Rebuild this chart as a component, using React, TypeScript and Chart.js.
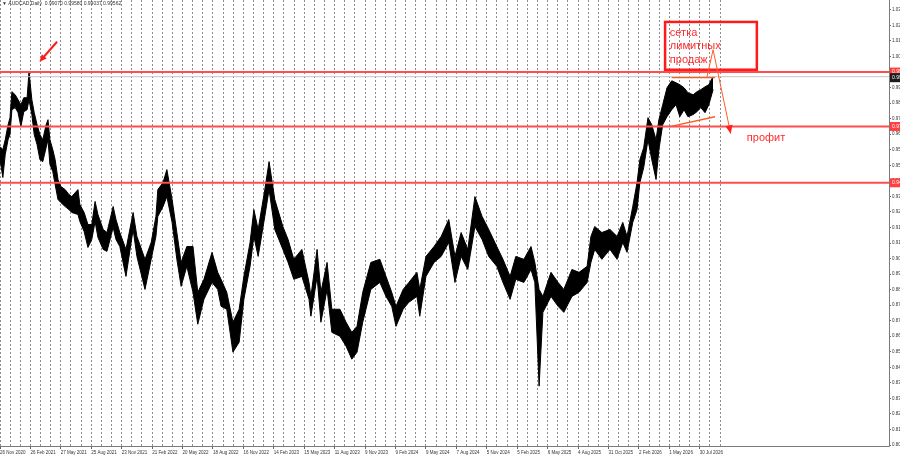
import { useEffect, useRef } from "react";
import { Chart, registerables } from "chart.js";

Chart.register(...registerables);

// ---- data (bar index of each sample, high / low prices) ----
const BAR_INDEX = [
  0, 6, 11, 17, 21, 25, 32, 38, 44, 50, 57, 61, 67, 72, 78, 84, 90, 97, 101, 105,
  111, 116, 122, 128, 137, 145, 151, 164, 168, 177, 185, 193, 200, 206, 217, 225, 238, 244, 252, 265,
  280, 288, 305, 318, 328, 332, 343, 351, 362, 372, 381, 393, 406, 416, 429, 446, 458, 465, 477, 490,
  503, 513, 526, 534, 543, 557, 566, 578, 595, 606, 618, 635, 650, 654, 667, 675, 688, 698, 715, 728,
  740, 751, 763, 780, 799, 812, 824, 833, 848, 860, 877, 883, 896, 913, 928, 944, 957, 970, 984, 999,
  1014, 1028, 1045, 1058, 1073, 1085, 1102, 1117, 1125, 1134, 1142, 1159, 1174, 1186, 1203, 1218, 1235, 1243, 1251, 1266,
  1283, 1298, 1310, 1319, 1331, 1340, 1346, 1354, 1363, 1371, 1380, 1386, 1394, 1403, 1413, 1422, 1430, 1439, 1447, 1458,
  1466, 1474, 1483, 1491, 1500,
];
const HIGHS = [
  0.9596, 0.9581, 0.9632, 0.9709, 0.9745, 0.9879, 0.9863, 0.9838, 0.9812, 0.9848, 0.9848, 0.9982, 0.9838, 0.9771, 0.9709, 0.9658, 0.9632, 0.9709, 0.9735, 0.9632,
  0.9581, 0.9529, 0.9427, 0.9391, 0.9375, 0.9350, 0.9339, 0.9375, 0.9298, 0.9257, 0.9195, 0.9195, 0.9314, 0.9247, 0.9170, 0.9154, 0.9288, 0.9221, 0.9154, 0.9067,
  0.9257, 0.9134, 0.9016, 0.9103, 0.9237, 0.9375, 0.9411, 0.9478, 0.9324, 0.9154, 0.9000, 0.9082, 0.9082, 0.8846, 0.8913, 0.9052, 0.8949, 0.8913, 0.8846, 0.8692,
  0.8759, 0.8928, 0.9103, 0.9272, 0.9170, 0.9375, 0.9519, 0.9324, 0.9185, 0.9118, 0.9016, 0.9067, 0.8897, 0.8825, 0.9067, 0.8846, 0.9000, 0.8759, 0.8759, 0.8692,
  0.8640, 0.8671, 0.8846, 0.9000, 0.9016, 0.8928, 0.8846, 0.8774, 0.8861, 0.8897, 0.8949, 0.8861, 0.9031, 0.9082, 0.9134, 0.9221, 0.9031, 0.9154, 0.9067, 0.9339,
  0.9237, 0.9170, 0.9082, 0.9016, 0.8928, 0.9031, 0.9016, 0.9082, 0.9000, 0.8861, 0.8825, 0.8949, 0.8897, 0.8861, 0.8964, 0.8949, 0.8980, 0.9134, 0.9185, 0.9154,
  0.9170, 0.9134, 0.9206, 0.9134, 0.9288, 0.9411, 0.9529, 0.9591, 0.9745, 0.9709, 0.9632, 0.9735, 0.9812, 0.9899, 0.9935, 0.9925, 0.9915, 0.9899, 0.9874, 0.9863,
  0.9879, 0.9889, 0.9904, 0.9915, 0.9958,
];
const LOWS = [
  0.9529, 0.9437, 0.9555, 0.9632, 0.9658, 0.9786, 0.9797, 0.9771, 0.9699, 0.9776, 0.9786, 0.9838, 0.9761, 0.9658, 0.9606, 0.9529, 0.9519, 0.9591, 0.9632, 0.9504,
  0.9468, 0.9401, 0.9324, 0.9308, 0.9288, 0.9272, 0.9257, 0.9247, 0.9211, 0.9159, 0.9077, 0.9118, 0.9211, 0.9129, 0.9067, 0.9057, 0.9180, 0.9118, 0.9082, 0.8928,
  0.9170, 0.9031, 0.8861, 0.9016, 0.9134, 0.9237, 0.9288, 0.9339, 0.9206, 0.9016, 0.8877, 0.8980, 0.8846, 0.8682, 0.8810, 0.8897, 0.8861, 0.8774, 0.8759, 0.8538,
  0.8589, 0.8810, 0.8980, 0.9134, 0.9031, 0.9237, 0.9375, 0.9170, 0.9067, 0.9000, 0.8913, 0.8928, 0.8810, 0.8723, 0.8928, 0.8692, 0.8861, 0.8640, 0.8620, 0.8569,
  0.8502, 0.8538, 0.8692, 0.8861, 0.8897, 0.8825, 0.8774, 0.8671, 0.8759, 0.8795, 0.8825, 0.8723, 0.8928, 0.9000, 0.9031, 0.9103, 0.8897, 0.9031, 0.8964, 0.9185,
  0.9118, 0.9031, 0.8980, 0.8897, 0.8810, 0.8913, 0.8897, 0.8964, 0.8897, 0.8363, 0.8743, 0.8825, 0.8774, 0.8743, 0.8825, 0.8846, 0.8897, 0.9000, 0.9067, 0.9016,
  0.9067, 0.9016, 0.9103, 0.9052, 0.9206, 0.9272, 0.9411, 0.9488, 0.9632, 0.9529, 0.9427, 0.9581, 0.9709, 0.9750, 0.9786, 0.9812, 0.9750, 0.9786, 0.9750, 0.9761,
  0.9776, 0.9797, 0.9771, 0.9812, 0.9890,
];

const Y_TICKS = [
  1.030, 1.022, 1.014, 1.006, 0.998, 0.990, 0.982, 0.974, 0.966, 0.958, 0.950, 0.942, 0.934, 0.926, 0.918,
  0.910, 0.902, 0.894, 0.886, 0.878, 0.870, 0.862, 0.854, 0.846, 0.838, 0.830, 0.822, 0.814, 0.806,
];
const DATE_LABELS = [
  "26 Nov 2020", "26 Feb 2021", "27 May 2021", "25 Aug 2021", "23 Nov 2021", "21 Feb 2022",
  "20 May 2022", "18 Aug 2022", "16 Nov 2022", "14 Feb 2023", "15 May 2023", "11 Aug 2023",
  "9 Nov 2023", "9 Feb 2024", "9 May 2024", "7 Aug 2024", "5 Nov 2024", "5 Feb 2025",
  "6 May 2025", "4 Aug 2025", "31 Oct 2025", "2 Feb 2026", "1 May 2026", "30 Jul 2026",
];
const BARS_PER_LABEL = 64;
const GRID_PER_LABEL = 3;
const GRID_COUNT = 72;
const X_MAX = 1870;
const Y_MIN = 0.8055;
const Y_MAX = 1.0351;

const LEVELS = [0.998, 0.97, 0.941];
const LEVEL_LABELS = ["0.99800", "0.97000", "0.94100"];
const CURRENT = 0.99562;
const CURRENT_LABEL = "0.99562";
const HEADER = "\u25BC AUDCAD,Daily  0.99070 0.99580 0.99037 0.99562";

// pattern lines (bar, price)
const TRI_TOP = [
  { x: 1413, y: 0.9951 },
  { x: 1504, y: 0.9951 },
];
const TRI_BOTTOM = [
  { x: 1409, y: 0.9699 },
  { x: 1504, y: 0.975 },
];

// annotations (bar, price)
const BOX = { x1: 1399, x2: 1592, y1: 1.0238, y2: 0.9992 };
const BOX_TEXT = ["сетка", "лимитных", "продаж"];
const BOX_TEXT_POS = { x: 1409, ys: [1.0166, 1.0097, 1.0027] };
const PROFIT_TEXT = "профит";
const PROFIT_POS = { x: 1571, y: 0.9625 };
const PEAK_ARROW = { from: { x: 120, y: 1.0136 }, to: { x: 83, y: 1.0033 } };
const SELL_PATH = [
  { x: 1487, y: 0.9953 },
  { x: 1500, y: 1.0095 },
  { x: 1537, y: 0.9663 },
];

function drawArrowHead(ctx: CanvasRenderingContext2D, x1: number, y1: number, x2: number, y2: number, size: number, color: string) {
  const a = Math.atan2(y2 - y1, x2 - x1);
  ctx.fillStyle = color;
  ctx.beginPath();
  ctx.moveTo(x2, y2);
  ctx.lineTo(x2 - size * Math.cos(a - 0.42), y2 - size * Math.sin(a - 0.42));
  ctx.lineTo(x2 - size * Math.cos(a + 0.42), y2 - size * Math.sin(a + 0.42));
  ctx.closePath();
  ctx.fill();
}

const overlayPlugin = {
  id: "overlay",
  afterDraw(chart: any) {
    const ctx: CanvasRenderingContext2D = chart.ctx;
    const xs = chart.scales.x;
    const ys = chart.scales.y;
    const ca = chart.chartArea;
    const px = (v: number) => xs.getPixelForValue(v);
    const py = (v: number) => ys.getPixelForValue(v);
    ctx.save();

    // axes
    ctx.strokeStyle = "#7a7a7a";
    ctx.lineWidth = 1;
    ctx.beginPath();
    ctx.moveTo(Math.round(ca.right) + 0.5, 0);
    ctx.lineTo(Math.round(ca.right) + 0.5, Math.round(ca.bottom) + 0.5);
    ctx.lineTo(0, Math.round(ca.bottom) + 0.5);
    ctx.stroke();

    // level labels
    ctx.font = "5px 'Liberation Sans'";
    ctx.textBaseline = "middle";
    ctx.textAlign = "left";
    LEVELS.forEach((lv, i) => {
      const y = py(lv);
      ctx.fillStyle = "#ff4040";
      ctx.fillRect(ca.right + 1, y - 4.5, 12, 9);
      ctx.fillStyle = "#ffffff";
      ctx.fillText(LEVEL_LABELS[i], ca.right + 3, y);
    });
    {
      const y = py(CURRENT) + 1;
      ctx.fillStyle = "#1c1c1c";
      ctx.fillRect(ca.right + 1, y - 4.5, 12, 9);
      ctx.fillStyle = "#ffffff";
      ctx.fillText(CURRENT_LABEL, ca.right + 3, y);
    }

    // header
    ctx.fillStyle = "#333";
    ctx.font = "5px 'Liberation Sans'";
    ctx.textBaseline = "middle";
    ctx.fillText(HEADER, 2, 4);

    // annotation box
    ctx.strokeStyle = "#ff1a1a";
    ctx.lineWidth = 2.5;
    const bx1 = px(BOX.x1), bx2 = px(BOX.x2), by1 = py(BOX.y1), by2 = py(BOX.y2);
    ctx.strokeRect(bx1, by1, bx2 - bx1, by2 - by1);

    ctx.fillStyle = "#ff2a2a";
    ctx.font = "11px 'Liberation Sans'";
    ctx.textBaseline = "alphabetic";
    BOX_TEXT.forEach((t, i) => ctx.fillText(t, px(BOX_TEXT_POS.x), py(BOX_TEXT_POS.ys[i])));
    ctx.fillText(PROFIT_TEXT, px(PROFIT_POS.x), py(PROFIT_POS.y));

    // peak arrow
    {
      const x1 = px(PEAK_ARROW.from.x), y1 = py(PEAK_ARROW.from.y);
      const x2 = px(PEAK_ARROW.to.x), y2 = py(PEAK_ARROW.to.y);
      ctx.strokeStyle = "#ff1a1a";
      ctx.lineWidth = 2;
      ctx.beginPath();
      ctx.moveTo(x1, y1);
      ctx.lineTo(x2 + (x1 - x2) * 0.2, y2 + (y1 - y2) * 0.2);
      ctx.stroke();
      drawArrowHead(ctx, x1, y1, x2, y2, 8, "#ff1a1a");
    }

    // sell path
    {
      ctx.strokeStyle = "#ff5a2a";
      ctx.lineWidth = 1;
      ctx.beginPath();
      SELL_PATH.forEach((p, i) => {
        const X = px(p.x), Y = py(p.y);
        if (i === 0) ctx.moveTo(X, Y);
        else ctx.lineTo(X, Y);
      });
      ctx.stroke();
      const a = SELL_PATH[1], b = SELL_PATH[2];
      drawArrowHead(ctx, px(a.x), py(a.y), px(b.x), py(b.y), 9, "#ff2020");
    }

    ctx.restore();
  },
};

export default function App() {
  const ref = useRef<HTMLCanvasElement>(null);
  useEffect(() => {
    document.body.style.margin = "0";
    const gridStep = BARS_PER_LABEL / GRID_PER_LABEL;
    const flat = (v: number) => [
      { x: 0, y: v },
      { x: X_MAX, y: v },
    ];
    const chart = new Chart(ref.current as HTMLCanvasElement, {
      type: "line",
      data: {
        datasets: [
          {
            data: BAR_INDEX.map((x, i) => ({ x, y: HIGHS[i] })),
            borderColor: "#000",
            borderWidth: 1,
            pointRadius: 0,
            fill: false,
            order: 2,
          },
          {
            data: BAR_INDEX.map((x, i) => ({ x, y: LOWS[i] })),
            borderColor: "#000",
            backgroundColor: "#000",
            borderWidth: 1,
            pointRadius: 0,
            fill: "-1",
            order: 2,
          },
          {
            data: flat(CURRENT),
            borderColor: "#c4c4c4",
            borderWidth: 1,
            pointRadius: 0,
            order: 1,
          },
          ...LEVELS.map((lv) => ({
            data: flat(lv),
            borderColor: "#ff4d4d",
            borderWidth: 2,
            pointRadius: 0,
            order: 0,
          })),
          {
            data: TRI_TOP,
            borderColor: "#ff5a1f",
            borderWidth: 1.3,
            pointRadius: 0,
            order: 0,
          },
          {
            data: TRI_BOTTOM,
            borderColor: "#ff5a1f",
            borderWidth: 1.3,
            pointRadius: 0,
            order: 0,
          },
        ] as any,
      },
      options: {
        animation: false,
        responsive: true,
        maintainAspectRatio: false,
        layout: { padding: 0 },
        plugins: { legend: { display: false }, tooltip: { enabled: false } },
        elements: { line: { tension: 0 } },
        scales: {
          x: {
            type: "linear",
            min: 0,
            max: X_MAX,
            afterBuildTicks: (scale: any) => {
              scale.ticks = Array.from({ length: GRID_COUNT }, (_, i) => ({ value: i * gridStep }));
            },
            afterFit: (scale: any) => {
              scale.height = 15;
              scale.paddingLeft = 0;
              scale.paddingRight = 0;
            },
            grid: {
              color: "#8c8c8c",
              lineWidth: 1,
              drawTicks: true,
              tickLength: 3,
              tickColor: (c: any) => (c.index % GRID_PER_LABEL === 0 ? "#666" : "rgba(0,0,0,0)"),
            },
            border: { display: false, dash: [2, 2] },
            ticks: {
              autoSkip: false,
              maxRotation: 0,
              minRotation: 0,
              align: "start",
              padding: 1,
              color: "#333",
              font: { family: "'Liberation Sans'", size: 4.5 },
              callback: (v: any) => {
                const i = Math.round(Number(v) / gridStep);
                return i % GRID_PER_LABEL === 0 ? DATE_LABELS[i / GRID_PER_LABEL] ?? "" : "";
              },
            },
          },
          y: {
            type: "linear",
            position: "right",
            min: Y_MIN,
            max: Y_MAX,
            afterBuildTicks: (scale: any) => {
              scale.ticks = Y_TICKS.map((v) => ({ value: v }));
            },
            afterFit: (scale: any) => {
              scale.width = 11;
              scale.paddingTop = 0;
              scale.paddingBottom = 0;
            },
            grid: {
              drawOnChartArea: false,
              drawTicks: true,
              tickLength: 2,
              tickColor: "#666",
            },
            border: { display: false },
            ticks: {
              padding: 1,
              color: "#333",
              font: { family: "'Liberation Sans'", size: 4.5 },
              callback: (v: any) => Number(v).toFixed(5),
            },
          },
        },
      } as any,
      plugins: [overlayPlugin],
    });
    return () => chart.destroy();
  }, []);
  return (
    <div style={{ position: "fixed", left: 0, top: 0, width: 900, height: 461, background: "#fff" }}>
      <canvas ref={ref} />
    </div>
  );
}
